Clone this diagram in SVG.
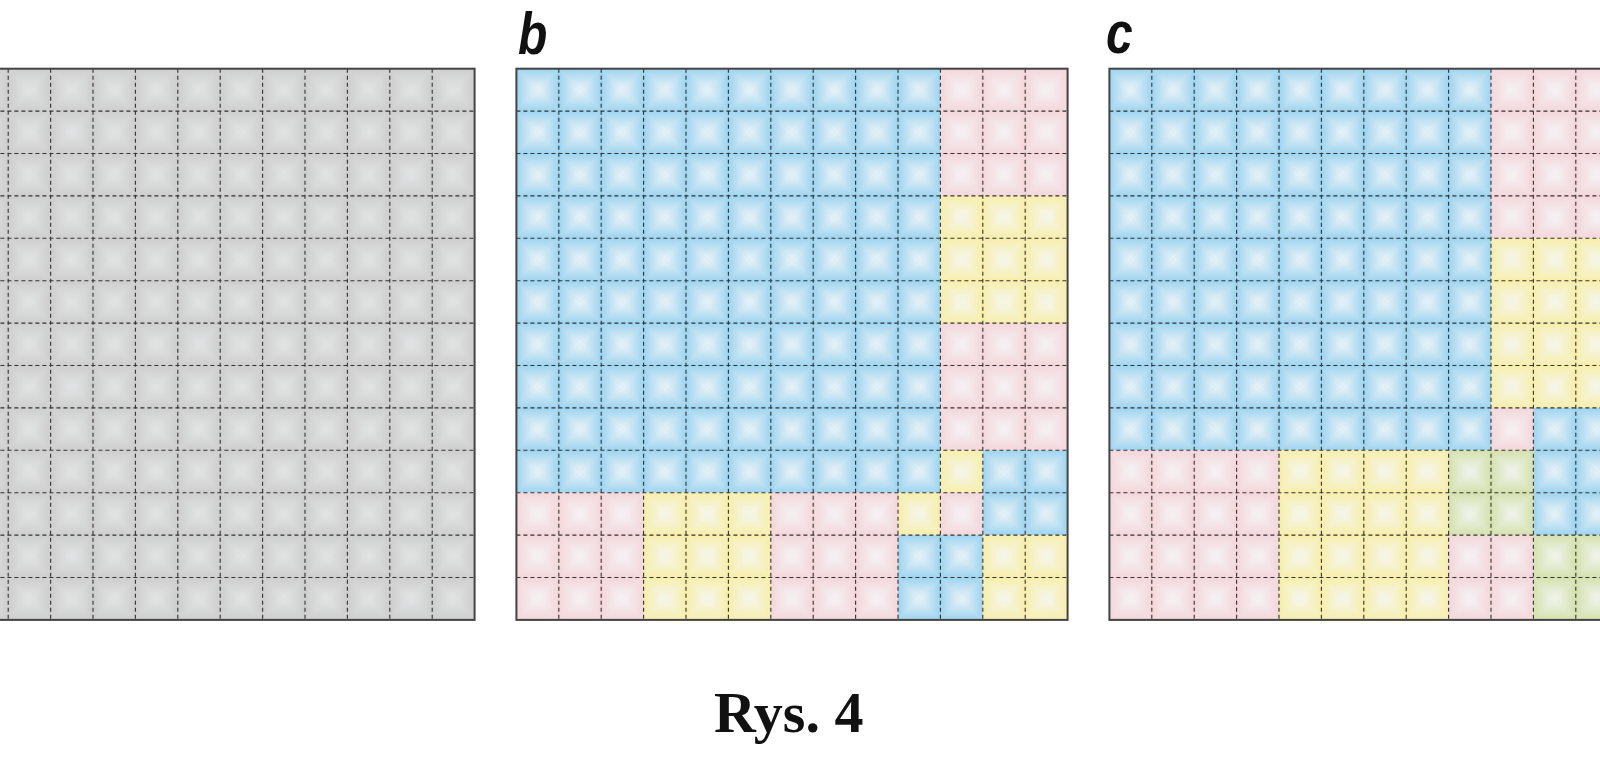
<svg xmlns="http://www.w3.org/2000/svg" width="1600" height="768" viewBox="0 0 1600 768">
<style>
.bl{fill:#9ed4f0}.pk{fill:#f4d6da}.ye{fill:#f7eeaa}.gr{fill:#d4e1ad}.gy{fill:#cecece}
.grid{fill:none;stroke:#333;stroke-width:1.1;stroke-dasharray:4 3}
.frame{fill:none;stroke:#444;stroke-width:2}
.lbl{font-family:"Liberation Sans","DejaVu Sans",sans-serif;font-weight:700;font-style:italic;font-size:60px;fill:#111}
.cap{font-family:"Liberation Serif","DejaVu Serif",serif;font-weight:700;font-size:58px;fill:#111}
</style>
<defs>
<linearGradient id="gT" x1="0" y1="0" x2="0" y2="1"><stop offset="0" stop-color="#f5f7f8" stop-opacity="0"/><stop offset="0.4" stop-color="#f5f7f8" stop-opacity="0.35"/><stop offset="1" stop-color="#f5f7f8" stop-opacity="0.9"/></linearGradient>
<linearGradient id="gB" href="#gT" x1="0" y1="1" x2="0" y2="0"/>
<linearGradient id="gL" href="#gT" x1="0" y1="0" x2="1" y2="0"/>
<linearGradient id="gR" href="#gT" x1="1" y1="0" x2="0" y2="0"/>
<pattern id="shade" width="42.4" height="42.4" patternUnits="userSpaceOnUse">
<polygon points="0,0 42.4,0 21.2,21.2" fill="url(#gT)"/>
<polygon points="0,42.4 42.4,42.4 21.2,21.2" fill="url(#gB)"/>
<polygon points="0,0 0,42.4 21.2,21.2" fill="url(#gL)"/>
<polygon points="42.4,0 42.4,42.4 21.2,21.2" fill="url(#gR)"/>
</pattern>
<path id="gridlines" d="M42.4,0V551.2M84.8,0V551.2M127.2,0V551.2M169.6,0V551.2M212,0V551.2M254.4,0V551.2M296.8,0V551.2M339.2,0V551.2M381.6,0V551.2M424,0V551.2M466.4,0V551.2M508.8,0V551.2M0,42.4H551.2M0,84.8H551.2M0,127.2H551.2M0,169.6H551.2M0,212H551.2M0,254.4H551.2M0,296.8H551.2M0,339.2H551.2M0,381.6H551.2M0,424H551.2M0,466.4H551.2M0,508.8H551.2"/>
</defs>
<rect width="1600" height="768" fill="#fff"/>

<g id="panel-a" transform="translate(-76.6,68.7)">
<rect class="gy" x="0" y="0" width="551.2" height="551.2"/>
<rect x="0" y="0" width="551.2" height="551.2" fill="url(#shade)" opacity="0.6"/>
<use href="#gridlines" class="grid"/>
<rect class="frame" x="0" y="0" width="551.2" height="551.2"/>
</g>

<g id="panel-b" transform="translate(516.4,68.7)">
<rect class="bl" x="0" y="0" width="424" height="424"/>
<rect class="pk" x="424" y="0" width="127.2" height="127.2"/>
<rect class="ye" x="424" y="127.2" width="127.2" height="127.2"/>
<rect class="pk" x="424" y="254.4" width="127.2" height="127.2"/>
<rect class="ye" x="424" y="381.6" width="42.4" height="42.4"/>
<rect class="bl" x="466.4" y="381.6" width="84.8" height="84.8"/>
<rect class="pk" x="0" y="424" width="127.2" height="127.2"/>
<rect class="ye" x="127.2" y="424" width="127.2" height="127.2"/>
<rect class="pk" x="254.4" y="424" width="127.2" height="127.2"/>
<rect class="ye" x="381.6" y="424" width="42.4" height="42.4"/>
<rect class="pk" x="424" y="424" width="42.4" height="42.4"/>
<rect class="bl" x="381.6" y="466.4" width="84.8" height="84.8"/>
<rect class="ye" x="466.4" y="466.4" width="84.8" height="84.8"/>
<rect x="0" y="0" width="551.2" height="551.2" fill="url(#shade)"/>
<use href="#gridlines" class="grid"/>
<rect class="frame" x="0" y="0" width="551.2" height="551.2"/>
</g>

<g id="panel-c" transform="translate(1109.4,68.7)">
<rect class="bl" x="0" y="0" width="381.6" height="381.6"/>
<rect class="pk" x="381.6" y="0" width="169.6" height="169.6"/>
<rect class="ye" x="381.6" y="169.6" width="169.6" height="169.6"/>
<rect class="pk" x="381.6" y="339.2" width="42.4" height="42.4"/>
<rect class="bl" x="424" y="339.2" width="127.2" height="127.2"/>
<rect class="pk" x="0" y="381.6" width="169.6" height="169.6"/>
<rect class="ye" x="169.6" y="381.6" width="169.6" height="169.6"/>
<rect class="gr" x="339.2" y="381.6" width="84.8" height="84.8"/>
<rect class="pk" x="339.2" y="466.4" width="84.8" height="84.8"/>
<rect class="gr" x="424" y="466.4" width="127.2" height="84.8"/>
<rect x="0" y="0" width="551.2" height="551.2" fill="url(#shade)"/>
<use href="#gridlines" class="grid"/>
<rect class="frame" x="0" y="0" width="551.2" height="551.2"/>
</g>

<g id="labels">
<text class="lbl" transform="translate(518,54) scale(0.8,1)">b</text>
<text class="lbl" transform="translate(1106,53) scale(0.8,1)">c</text>
<text class="cap" x="714" y="732">Rys. 4</text>
</g>
</svg>
